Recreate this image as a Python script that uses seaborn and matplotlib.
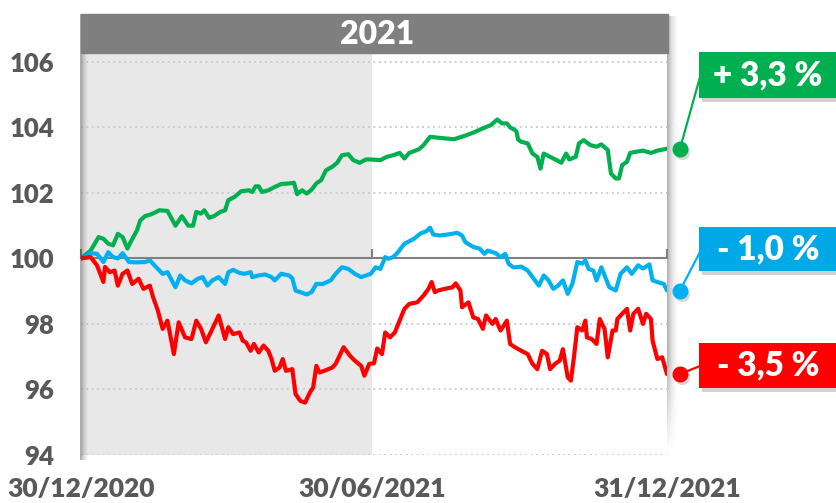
import numpy as np
import pandas as pd
import matplotlib.pyplot as plt
import matplotlib.dates as mdates
import matplotlib.transforms as mtransforms
from matplotlib.patches import Rectangle
import seaborn as sns

# index base 100 on 30/12/2020 (day offset -> level)
start = pd.Timestamp('2020-12-30')
mid = pd.Timestamp('2021-06-30')
end = pd.Timestamp('2021-12-31')

green_days = [0, 6, 11, 14, 17, 20, 23, 26, 29, 31, 35, 37, 40, 44, 49, 54, 59, 63, 67, 70, 72, 75, 77, 80, 83, 87,
              90, 92, 96, 100, 105, 107, 109, 111, 113, 117, 121, 125, 130, 133, 135, 138, 141, 144, 147, 150, 153,
              157, 160, 163, 167, 170, 174, 178, 181, 187, 191, 195, 199, 202, 205, 211, 214, 218, 222, 228, 233,
              239, 245, 251, 256, 260, 263, 266, 268, 271, 272, 273, 275, 279, 282, 285, 287, 289, 293, 297, 300,
              303, 305, 309, 311, 314, 318, 322, 325, 329, 331, 334, 336, 338, 341, 343, 347, 351, 356, 360, 364, 366]
green_vals = [100.0, 100.24, 100.65, 100.6, 100.45, 100.4, 100.75, 100.65, 100.3, 100.5, 100.86, 101.16, 101.29,
              101.35, 101.47, 101.45, 101.0, 101.29, 101.0, 101.0, 101.42, 101.37, 101.47, 101.24, 101.29, 101.42,
              101.47, 101.78, 101.88, 102.05, 102.08, 102.03, 102.2, 102.2, 102.03, 102.08, 102.18, 102.27, 102.29,
              102.31, 101.96, 102.08, 101.98, 102.1, 102.29, 102.39, 102.69, 102.8, 102.92, 103.15, 103.18, 103.0,
              102.92, 103.02, 103.02, 103.0, 103.1, 103.15, 103.22, 103.05, 103.22, 103.33, 103.46, 103.71, 103.69,
              103.66, 103.64, 103.73, 103.84, 103.97, 104.07, 104.24, 104.12, 104.12, 104.0, 103.92, 103.87, 103.63,
              103.56, 103.51, 103.2, 103.1, 102.74, 103.2, 103.1, 103.0, 102.92, 103.2, 103.02, 103.1, 103.51,
              103.61, 103.46, 103.41, 103.48, 103.31, 102.59, 102.44, 102.44, 102.85, 102.95, 103.22, 103.26,
              103.29, 103.22, 103.29, 103.33, 103.35]

blue_days = [0, 6, 10, 14, 17, 20, 23, 26, 30, 35, 40, 43, 47, 51, 54, 59, 62, 65, 69, 73, 76, 79, 82, 86,
             90, 92, 95, 99, 102, 106, 107, 111, 115, 119, 121, 125, 130, 132, 134, 137, 141, 144, 147, 151, 156,
             159, 163, 167, 171, 175, 178, 181, 184, 187, 190, 192, 195, 198, 202, 208, 212, 216, 218, 220, 224,
             229, 235, 238, 240, 245, 249, 252, 254, 259, 262, 265, 267, 270, 272, 275, 279, 282, 286, 289, 292,
             295, 298, 301, 304, 307, 310, 313, 315, 317, 320, 322, 325, 330, 334, 337, 341, 344, 348, 351, 355,
             357, 360, 364, 366]
blue_vals = [100.0, 100.16, 100.14, 99.89, 100.19, 100.04, 100.0, 100.16, 99.89, 99.88, 99.89, 99.94, 99.73,
             99.53, 99.58, 99.12, 99.48, 99.33, 99.24, 99.38, 99.43, 99.17, 99.33, 99.43, 99.22, 99.58, 99.65,
             99.56, 99.53, 99.58, 99.43, 99.48, 99.51, 99.43, 99.33, 99.53, 99.48, 99.39, 99.02, 98.97, 98.9,
             98.97, 99.22, 99.22, 99.33, 99.53, 99.73, 99.68, 99.53, 99.43, 99.48, 99.53, 99.73, 99.68, 100.04,
             99.99, 100.04, 100.19, 100.45, 100.6, 100.76, 100.84, 100.94, 100.73, 100.7, 100.73, 100.78, 100.7,
             100.5, 100.35, 100.3, 100.14, 100.24, 100.16, 100.04, 100.14, 99.84, 99.73, 99.73, 99.75, 99.63,
             99.43, 99.17, 99.48, 99.33, 99.07, 99.17, 99.33, 98.92, 99.24, 99.89, 99.84, 99.94, 99.68, 99.63,
             99.33, 99.73, 99.12, 99.02, 99.53, 99.73, 99.53, 99.79, 99.69, 99.82, 99.33, 99.28, 99.22, 99.02]

red_days = [0, 6, 10, 14, 15, 18, 21, 23, 26, 29, 32, 36, 39, 43, 45, 48, 51, 54, 58, 61, 65, 69, 72, 75, 78,
            81, 86, 90, 92, 95, 99, 101, 103, 106, 108, 111, 114, 117, 119, 121, 124, 126, 128, 132, 134, 137,
            140, 143, 145, 147, 149, 152, 157, 159, 161, 164, 168, 171, 175, 177, 180, 183, 185, 188, 190, 193,
            196, 199, 202, 205, 210, 214, 217, 219, 221, 223, 227, 232, 234, 237, 238, 242, 245, 248, 251, 253,
            257, 259, 262, 266, 268, 271, 275, 279, 282, 285, 288, 291, 293, 296, 299, 301, 304, 306, 308, 310,
            313, 315, 316, 319, 322, 324, 327, 329, 332, 334, 335, 338, 341, 343, 345, 348, 351, 353, 356, 357,
            360, 363, 366]
red_vals = [100.0, 100.04, 99.79, 99.28, 99.74, 99.58, 99.63, 99.17, 99.53, 99.63, 99.22, 99.38, 99.07, 99.17,
            98.82, 98.41, 97.85, 98.1, 97.08, 98.05, 97.59, 97.54, 98.1, 97.85, 97.44, 97.74, 98.26, 97.54, 97.9,
            97.69, 97.74, 97.49, 97.44, 97.18, 97.39, 97.13, 97.34, 97.18, 96.93, 96.57, 96.67, 96.93, 96.57,
            96.62, 95.86, 95.65, 95.6, 95.91, 96.06, 96.72, 96.52, 96.57, 96.67, 96.78, 96.98, 97.29, 97.03,
            96.88, 96.72, 96.42, 96.78, 96.8, 97.25, 97.08, 97.74, 97.59, 97.74, 98.1, 98.46, 98.61, 98.66, 98.87,
            99.07, 99.28, 98.97, 99.02, 99.07, 99.12, 99.24, 99.02, 98.51, 98.66, 98.2, 98.15, 97.85, 98.26, 98.0,
            98.15, 97.8, 98.1, 97.39, 97.29, 97.18, 97.08, 96.78, 96.62, 97.18, 97.08, 96.62, 96.78, 96.88, 97.23,
            96.37, 96.27, 97.03, 97.9, 97.8, 98.1, 97.59, 97.54, 97.39, 98.15, 97.85, 96.98, 97.8, 97.8, 98.15,
            98.31, 98.46, 97.8, 98.31, 98.46, 98.0, 98.31, 98.15, 97.49, 96.93, 96.98, 96.47]

labels = ['+ 3,3 %', '- 1,0 %', '- 3,5 %']
line_colors = ['#00b050', '#00b0f0', '#ff0000']
box_colors = ['#00b050', '#00a8e8', '#ff0000']
xtick_labels = ['30/12/2020', '30/06/2021', '31/12/2021']

sns.set_theme(style='white')
plt.rcParams['font.family'] = ['Lato', 'DejaVu Sans']

W, H = 836, 503
fig = plt.figure(figsize=(W / 100, H / 100), dpi=100)


def fx(px):
    return px / W


def fy(py):
    return 1 - py / H


ax = fig.add_axes([fx(81), fy(455), fx(667) - fx(81), fy(53) - fy(455)])

# first half of the year shaded
ax.axvspan(start, mid, color='#e8e8e8', zorder=0, lw=0)

for days, vals, col in zip([green_days, blue_days, red_days],
                           [green_vals, blue_vals, red_vals], line_colors):
    df = pd.DataFrame({'date': start + pd.to_timedelta(days, unit='D'), 'value': vals})
    sns.lineplot(data=df, x='date', y='value', color=col, lw=3.0, ax=ax, zorder=3)

ax.set_xlim(start, end)
ax.set_ylim(94, 106.27)
ax.set_xlabel('')
ax.set_ylabel('')
ax.set_yticks(np.arange(94, 107, 2))
ax.set_xticks([start, mid, end])
ax.set_xticklabels(xtick_labels)
ax.grid(False)
ax.grid(axis='y', color='#c8c8c8', ls=(0, (1, 2)), lw=1.3)
ax.set_facecolor('white')

for s in ['left', 'right', 'bottom']:
    ax.spines[s].set_visible(False)
ax.spines['top'].set_position(('data', 100))
ax.spines['top'].set_color('#808080')
ax.spines['top'].set_linewidth(1.5)
ax.spines['top'].set_zorder(2)

ax.tick_params(axis='x', bottom=False, top=True, labelbottom=True, labeltop=False,
               direction='out', length=6.5, width=1.5, color='#808080', pad=9.5,
               labelsize=19, labelcolor='#595959')
ax.tick_params(axis='y', left=False, length=0, pad=19, labelsize=18.5, labelcolor='#595959')
for t in ax.get_xticklabels() + ax.get_yticklabels():
    t.set_fontweight('heavy')

# header bar
fig.patches.append(Rectangle((fx(81), fy(53)), fx(668) - fx(81), fy(14) - fy(53),
                             transform=fig.transFigure, color='#7f7f7f', zorder=1))
fig.text(fx(377), fy(34), '2021', color='white', fontsize=23, fontweight='heavy',
         ha='center', va='center')

# soft shadows at the plot edges
grad = np.zeros((1, 40, 4))
grad[..., :3] = 0.25
grad[0, :, 3] = np.linspace(0.6, 0, 40) ** 1.5
sh = fig.add_axes([fx(80), fy(460), fx(89) - fx(80), fy(14) - fy(460)])
sh.imshow(grad, aspect='auto', extent=(0, 1, 0, 1))
sh.axis('off')

gx = np.linspace(0, 1, 30)
gy = np.linspace(0, 1, 120)
fade = np.clip((gy - 0.02) / 0.2, 0, 1)[::-1]
grad_r = np.zeros((120, 30, 4))
grad_r[..., :3] = 0.3
grad_r[..., 3] = 0.45 * ((1 - gx[None, :]) ** 2) * fade[:, None]
sh2 = fig.add_axes([fx(667), fy(462), fx(680) - fx(667), fy(16) - fy(462)])
sh2.imshow(grad_r, aspect='auto', extent=(0, 1, 0, 1))
sh2.axis('off')
sh2.set_zorder(-1)

# end-of-period labels
dot_tr = mtransforms.offset_copy(ax.transData, fig=fig, x=13, y=0, units='dots')
shadow_tr = mtransforms.offset_copy(ax.transData, fig=fig, x=15, y=-3, units='dots')
boxes = [(52, 98), (227, 271), (343, 388)]
link_y = [77, 252, 366]
for (days, vals), lab, lcol, bcol, (y0, y1), ly in zip(
        [(green_days, green_vals), (blue_days, blue_vals), (red_days, red_vals)],
        labels, line_colors, box_colors, boxes, link_y):
    last_x = mdates.date2num(start + pd.Timedelta(days=days[-1]))
    ax.plot([last_x], [vals[-1]], 'o', ms=11, color='black', alpha=0.15, mew=0,
            transform=shadow_tr, clip_on=False, zorder=5)
    ax.plot([last_x], [vals[-1]], 'o', ms=10.5, color=lcol, transform=dot_tr,
            clip_on=False, zorder=6)
    ax.annotate('', xy=(last_x, vals[-1]), xycoords=dot_tr,
                xytext=(fx(700), fy(ly)), textcoords='figure fraction',
                arrowprops=dict(arrowstyle='-', color=lcol, lw=1.6, shrinkA=0, shrinkB=0),
                annotation_clip=False, zorder=5)
    fig.patches.append(Rectangle((fx(702), fy(y1 + 4)), fx(836) - fx(699), fy(y0) - fy(y1),
                                 transform=fig.transFigure, color='black', alpha=0.18, lw=0, zorder=1))
    fig.patches.append(Rectangle((fx(699), fy(y1)), fx(836) - fx(699), fy(y0) - fy(y1),
                                 transform=fig.transFigure, color=bcol, lw=0, zorder=2))
    fig.text(fx(768), fy((y0 + y1) / 2), lab, color='white', fontsize=24, fontweight='heavy',
             ha='center', va='center', zorder=3)

fig.savefig('out.png', dpi=100)
